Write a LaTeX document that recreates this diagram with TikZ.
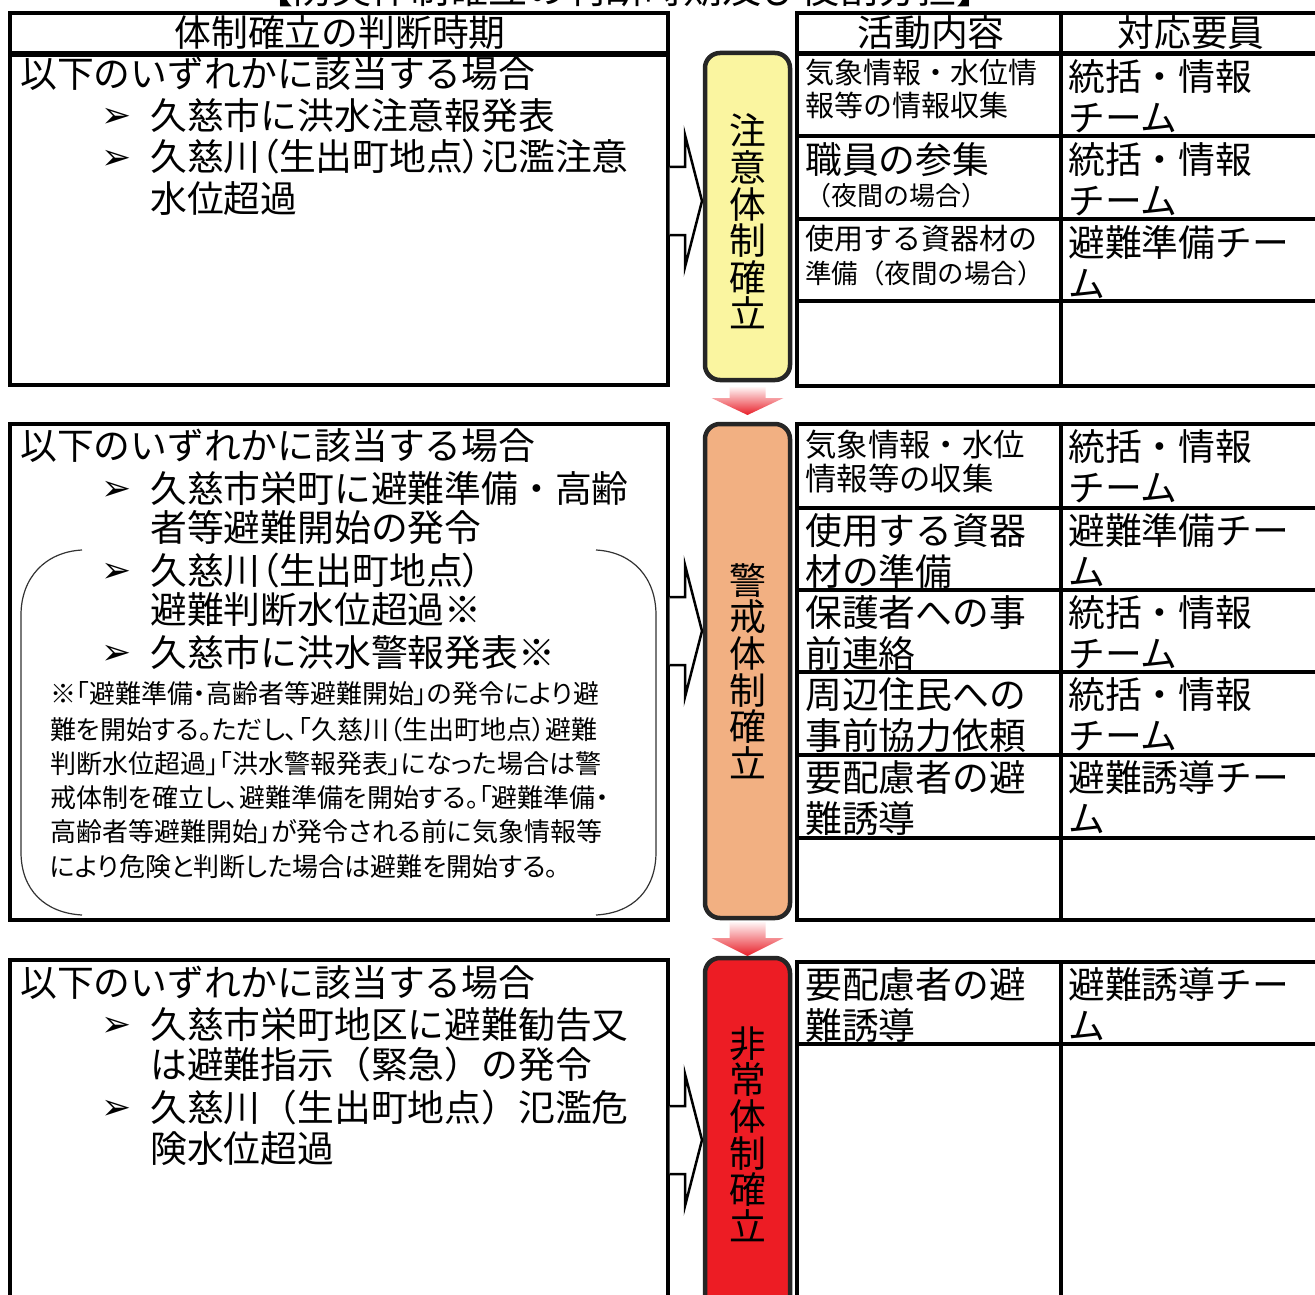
\documentclass[tikz,border=0pt]{standalone}
\usepackage{fontspec}
\newfontfamily\jp{Noto Sans CJK JP}
\newfontfamily\jpp[RawFeature=+palt]{Noto Sans CJK JP}
\newfontfamily\djv{DejaVu Sans}
\usetikzlibrary{calc}
\definecolor{yel}{RGB}{250,245,160}
\definecolor{org}{RGB}{242,176,130}
\definecolor{redf}{RGB}{237,28,36}
\definecolor{arrred}{RGB}{232,30,40}
\newcommand{\fsz}[1]{\jp\fontsize{#1}{#1}\selectfont}
\newcommand{\nfs}[1]{\jpp\fontsize{#1}{#1}\selectfont}
\begin{document}
\begin{tikzpicture}[x=1pt,y=-1pt,
 frame/.style={draw=black, line width=4, fill=white, inner sep=0, outer sep=0},
 stage/.style={draw=black!85, line width=4.5, rounded corners=15, inner sep=0, outer sep=0, minimum width=85},
 tx/.style={anchor=base west, inner sep=0, font=\fsz{36.8}},
 txp/.style={anchor=base west, inner sep=0, font=\nfs{36.8}},
 hd/.style={anchor=base, inner sep=0, font=\fsz{36.8}},
 bul/.style={anchor=base west, inner sep=0, font=\djv\fontsize{36}{36}\selectfont},
 note/.style={anchor=base west, inner sep=0, font=\nfs{26}},
 vlab/.style={align=center, inner sep=0, font=\jp\fontsize{36.8}{36.6}\selectfont},
 chev/.style={draw=black, line width=2.5, fill=white, line join=miter},
 down/.style={top color=red!4, bottom color=arrred, draw=none},
 tline/.style={line width=3.5},
 brk/.style={draw=black!80, line width=1.2},
]
\useasboundingbox (0,0) rectangle (1315,1295);
\fill[white] (0,0) rectangle (1315,1295);

% title (cut at the top edge, as in the reference)
\node[anchor=base, inner sep=0, font=\fsz{39}] (title) at (625,4) {【防災体制確立の判断時期及び役割分担】};

% left frames
\node[frame, minimum width=658, minimum height=40] (hL) at (339,33) {};
\node[frame, minimum width=658, minimum height=330] (c1) at (339,220) {};
\node[frame, minimum width=658, minimum height=496] (c2) at (339,672) {};
\node[frame, minimum width=658, minimum height=370] (c3) at (339,1145) {};

% right tables
\node[frame, minimum width=533, minimum height=373] (T1) at (1063.5,199.5) {};
\node[frame, minimum width=533, minimum height=496] (T2) at (1063.5,672) {};
\node[frame, minimum width=533, minimum height=368] (T3) at (1063.5,1146) {};
\draw[line width=5] (797,54) -- (1330,54);
\foreach \yy in {136,219,301} \draw[tline] (797,\yy) -- (1330,\yy);
\foreach \yy in {508,590,672,755,838} \draw[tline] (797,\yy) -- (1330,\yy);
\draw[tline] (797,1044) -- (1330,1044);
\draw[line width=4] (1061,13) -- (1061,386);
\draw[line width=4] (1061,424) -- (1061,920);
\draw[line width=4] (1061,962) -- (1061,1330);

% stages
\node[stage, fill=yel, minimum height=327] (s1) at (747.5,216.5) {};
\node[stage, fill=org, minimum height=494] (s2) at (747.5,671) {};
\node[stage, fill=redf, minimum height=372] (s3) at (747.5,1144) {};

% chevrons from condition boxes to stages
\coordinate (k1) at (c1.east |- 0,201);
\coordinate (k2) at (c2.east |- 0,631);
\coordinate (k3) at (c3.east |- 0,1140);
\foreach \k in {k1,k2,k3}
  \path[chev] ($(\k)+(1.5,-34)$) -- ($(\k)+(17,-34)$) -- ($(\k)+(17,-66)$) -- ($(\k)+(34,0)$)
     -- ($(\k)+(17,66)$) -- ($(\k)+(17,34)$) -- ($(\k)+(1.5,34)$);

% down arrows between stages
\coordinate (a1) at ($(s1.south)+(0,7)$);
\coordinate (a2) at ($(s2.south)+(0,4)$);
\shade[down] ($(a1)+(-18,0)$) -- ($(a1)+(18,0)$) -- ($(a1)+(18,11)$) -- ($(a1)+(36,11)$)
   -- ($(a1)+(0,28)$) -- ($(a1)+(-36,11)$) -- ($(a1)+(-18,11)$) -- cycle;
\shade[down] ($(a2)+(-18,0)$) -- ($(a2)+(18,0)$) -- ($(a2)+(18,16)$) -- ($(a2)+(36,16)$)
   -- ($(a2)+(0,34)$) -- ($(a2)+(-36,16)$) -- ($(a2)+(-18,16)$) -- cycle;

% stage labels
\node[vlab] (l1) at ($(s1.center)+(0,5)$) {注\\意\\体\\制\\確\\立};
\node[vlab] (l2) at (s2.center) {警\\戒\\体\\制\\確\\立};
\node[vlab] (l3) at ($(s3.center)+(0,-10)$) {非\\常\\体\\制\\確\\立};

% headers
\node[hd] (hLt) at (340,47) {体制確立の判断時期};
\node[hd] (h2) at (931,47) {活動内容};
\node[hd] (h3) at (1191,47) {対応要員};

% box 1
\node[tx] (c1h) at (20,88) {以下のいずれかに該当する場合};
\node[bul] (c1b1) at (101,128) {➢};
\node[tx] (c1a) at (150,130) {久慈市に洪水注意報発表};
\node[bul] (c1b2) at (101,169) {➢};
\node[txp] (c1c) at (150,171) {久慈川（生出町地点）氾濫注意};
\node[tx] (c1d) at (150,212) {水位超過};

% box 2
\draw[brk] (82,550) .. controls (45,552) and (21,578) .. (21,615) -- (21,852) .. controls (21,890) and (45,913) .. (82,915);
\draw[brk] (596,550) .. controls (633,552) and (656,578) .. (656,615) -- (656,852) .. controls (656,890) and (633,913) .. (596,915);
\node[tx] (c2h) at (20,459) {以下のいずれかに該当する場合};
\node[bul] (c2b1) at (101,500) {➢};
\node[tx] (c2a) at (150,502) {久慈市栄町に避難準備・高齢};
\node[tx] (c2a2) at (150,541) {者等避難開始の発令};
\node[bul] (c2b2) at (101,582) {➢};
\node[txp] (c2c) at (150,584) {久慈川（生出町地点）};
\node[tx] (c2c2) at (150,623) {避難判断水位超過※};
\node[bul] (c2b3) at (101,664) {➢};
\node[tx] (c2d) at (150,666) {久慈市に洪水警報発表※};
\node[note] (n1) at (50,703) {※「避難準備・高齢者等避難開始」の発令により避};
\node[note] (n2) at (50,739) {難を開始する。ただし、「久慈川（生出町地点）避難};
\node[note] (n3) at (50,773) {判断水位超過」「洪水警報発表」になった場合は警};
\node[note] (n4) at (50,807) {戒体制を確立し、避難準備を開始する。「避難準備・};
\node[note] (n5) at (50,841) {高齢者等避難開始」が発令される前に気象情報等};
\node[note] (n6) at (50,876) {により危険と判断した場合は避難を開始する。};

% box 3
\node[tx] (c3h) at (20,996) {以下のいずれかに該当する場合};
\node[bul] (c3b1) at (101,1036) {➢};
\node[tx] (c3a) at (150,1038) {久慈市栄町地区に避難勧告又};
\node[tx] (c3a2) at (150,1078) {は避難指示（緊急）の発令};
\node[bul] (c3b2) at (101,1119) {➢};
\node[tx] (c3c) at (150,1121) {久慈川（生出町地点）氾濫危};
\node[tx] (c3c2) at (150,1162) {険水位超過};

% table 1
\node[tx, font=\fsz{29}] (t11a) at (805,84) {気象情報・水位情};
\node[tx, font=\fsz{29}] (t11b) at (805,117) {報等の情報収集};
\node[tx] (t11c) at (1068,91) {統括・情報};
\node[tx] (t11d) at (1068,132) {チーム};
\node[tx] (t12a) at (805,174) {職員の参集};
\node[tx, font=\fsz{26}] (t12b) at (805,205) {（夜間の場合）};
\node[tx] (t12c) at (1068,174) {統括・情報};
\node[tx] (t12d) at (1068,214) {チーム};
\node[tx, font=\fsz{29}] (t13a) at (805,249) {使用する資器材の};
\node[tx, font=\fsz{26.5}] (t13b) at (805,283) {準備（夜間の場合）};
\node[tx] (t13c) at (1068,256) {避難準備チー};
\node[tx] (t13d) at (1068,297) {ム};

% table 2
\node[tx, font=\fsz{31.4}] (t21a) at (805,456) {気象情報・水位};
\node[tx, font=\fsz{31.4}] (t21b) at (805,490) {情報等の収集};
\node[tx] (t21c) at (1068,460) {統括・情報};
\node[tx] (t21d) at (1068,501) {チーム};
\node[tx] (t22a) at (805,544) {使用する資器};
\node[tx] (t22b) at (805,585) {材の準備};
\node[tx] (t22c) at (1068,544) {避難準備チー};
\node[tx] (t22d) at (1068,585) {ム};
\node[tx] (t23a) at (805,626) {保護者への事};
\node[tx] (t23b) at (805,667) {前連絡};
\node[tx] (t23c) at (1068,626) {統括・情報};
\node[tx] (t23d) at (1068,667) {チーム};
\node[tx] (t24a) at (805,708) {周辺住民への};
\node[tx] (t24b) at (805,749) {事前協力依頼};
\node[tx] (t24c) at (1068,708) {統括・情報};
\node[tx] (t24d) at (1068,749) {チーム};
\node[tx] (t25a) at (805,791) {要配慮者の避};
\node[tx] (t25b) at (805,832) {難誘導};
\node[tx] (t25c) at (1068,791) {避難誘導チー};
\node[tx] (t25d) at (1068,832) {ム};

% table 3
\node[tx] (t31a) at (805,998) {要配慮者の避};
\node[tx] (t31b) at (805,1039) {難誘導};
\node[tx] (t31c) at (1068,998) {避難誘導チー};
\node[tx] (t31d) at (1068,1039) {ム};
\end{tikzpicture}
\end{document}
